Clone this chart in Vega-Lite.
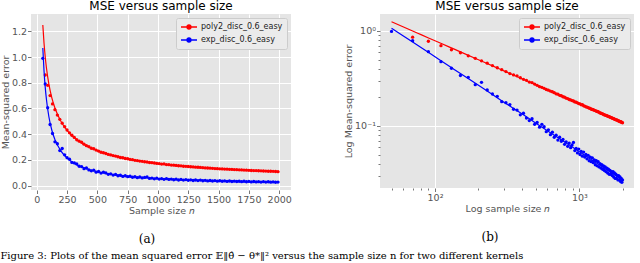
{
  "$schema": "https://vega.github.io/schema/vega-lite/v6.json",
  "background": "white",
  "padding": {"left": 0, "top": 0, "right": 3, "bottom": 0},
  "datasets": {
    "pts": [
      {"n": 50, "exp": 0.99},
      {"n": 70, "poly2": 0.86, "exp": 0.79},
      {"n": 90, "poly2": 0.78, "exp": 0.605},
      {"n": 110, "poly2": 0.70, "exp": 0.475},
      {"n": 130, "poly2": 0.635, "exp": 0.405},
      {"n": 150, "poly2": 0.59, "exp": 0.34},
      {"n": 170, "poly2": 0.548, "exp": 0.325},
      {"n": 190, "poly2": 0.515, "exp": 0.272},
      {"n": 210, "poly2": 0.485, "exp": 0.288},
      {"n": 230, "poly2": 0.458, "exp": 0.239},
      {"n": 250, "poly2": 0.432, "exp": 0.217},
      {"n": 270, "poly2": 0.41, "exp": 0.205},
      {"n": 290, "poly2": 0.391, "exp": 0.18},
      {"n": 310, "poly2": 0.374, "exp": 0.176},
      {"n": 330, "poly2": 0.356, "exp": 0.168},
      {"n": 350, "poly2": 0.345, "exp": 0.15},
      {"n": 370, "poly2": 0.337, "exp": 0.147},
      {"n": 390, "poly2": 0.322, "exp": 0.131},
      {"n": 410, "poly2": 0.31, "exp": 0.136},
      {"n": 430, "poly2": 0.302, "exp": 0.121},
      {"n": 450, "poly2": 0.29, "exp": 0.114},
      {"n": 470, "poly2": 0.286, "exp": 0.119},
      {"n": 490, "poly2": 0.276, "exp": 0.104},
      {"n": 510, "poly2": 0.268, "exp": 0.109},
      {"n": 530, "poly2": 0.259, "exp": 0.097},
      {"n": 550, "poly2": 0.255, "exp": 0.104},
      {"n": 570, "poly2": 0.249, "exp": 0.098},
      {"n": 590, "poly2": 0.242, "exp": 0.087},
      {"n": 610, "poly2": 0.238, "exp": 0.091},
      {"n": 630, "poly2": 0.233, "exp": 0.081},
      {"n": 650, "poly2": 0.229, "exp": 0.086},
      {"n": 670, "poly2": 0.224, "exp": 0.076},
      {"n": 690, "poly2": 0.218, "exp": 0.08},
      {"n": 710, "poly2": 0.216, "exp": 0.071},
      {"n": 730, "poly2": 0.21, "exp": 0.076},
      {"n": 750, "poly2": 0.208, "exp": 0.069},
      {"n": 770, "poly2": 0.203, "exp": 0.072},
      {"n": 790, "poly2": 0.201, "exp": 0.064},
      {"n": 810, "poly2": 0.196, "exp": 0.068},
      {"n": 830, "poly2": 0.194, "exp": 0.061},
      {"n": 850, "poly2": 0.19, "exp": 0.066},
      {"n": 870, "poly2": 0.188, "exp": 0.059},
      {"n": 890, "poly2": 0.185, "exp": 0.063},
      {"n": 910, "poly2": 0.183, "exp": 0.067},
      {"n": 930, "poly2": 0.179, "exp": 0.055},
      {"n": 950, "poly2": 0.178, "exp": 0.058},
      {"n": 970, "poly2": 0.175, "exp": 0.052},
      {"n": 990, "poly2": 0.172, "exp": 0.057},
      {"n": 1010, "poly2": 0.171, "exp": 0.05},
      {"n": 1030, "poly2": 0.167, "exp": 0.054},
      {"n": 1050, "poly2": 0.168, "exp": 0.048},
      {"n": 1070, "poly2": 0.163, "exp": 0.053},
      {"n": 1090, "poly2": 0.162, "exp": 0.047},
      {"n": 1110, "poly2": 0.159, "exp": 0.05},
      {"n": 1130, "poly2": 0.158, "exp": 0.045},
      {"n": 1150, "poly2": 0.156, "exp": 0.049},
      {"n": 1170, "poly2": 0.154, "exp": 0.043},
      {"n": 1190, "poly2": 0.153, "exp": 0.047},
      {"n": 1210, "poly2": 0.15, "exp": 0.042},
      {"n": 1230, "poly2": 0.149, "exp": 0.046},
      {"n": 1250, "poly2": 0.148, "exp": 0.041},
      {"n": 1270, "poly2": 0.146, "exp": 0.044},
      {"n": 1290, "poly2": 0.145, "exp": 0.039},
      {"n": 1310, "poly2": 0.143, "exp": 0.043},
      {"n": 1330, "poly2": 0.142, "exp": 0.038},
      {"n": 1350, "poly2": 0.141, "exp": 0.042},
      {"n": 1370, "poly2": 0.139, "exp": 0.037},
      {"n": 1390, "poly2": 0.137, "exp": 0.04},
      {"n": 1410, "poly2": 0.136, "exp": 0.036},
      {"n": 1430, "poly2": 0.135, "exp": 0.039},
      {"n": 1450, "poly2": 0.134, "exp": 0.035},
      {"n": 1470, "poly2": 0.132, "exp": 0.038},
      {"n": 1490, "poly2": 0.131, "exp": 0.034},
      {"n": 1510, "poly2": 0.13, "exp": 0.037},
      {"n": 1530, "poly2": 0.129, "exp": 0.033},
      {"n": 1550, "poly2": 0.128, "exp": 0.036},
      {"n": 1570, "poly2": 0.127, "exp": 0.032},
      {"n": 1590, "poly2": 0.126, "exp": 0.035},
      {"n": 1610, "poly2": 0.125, "exp": 0.031},
      {"n": 1630, "poly2": 0.124, "exp": 0.034},
      {"n": 1650, "poly2": 0.123, "exp": 0.031},
      {"n": 1670, "poly2": 0.122, "exp": 0.033},
      {"n": 1690, "poly2": 0.121, "exp": 0.03},
      {"n": 1710, "poly2": 0.12, "exp": 0.033},
      {"n": 1730, "poly2": 0.119, "exp": 0.029},
      {"n": 1750, "poly2": 0.118, "exp": 0.032},
      {"n": 1770, "poly2": 0.117, "exp": 0.028},
      {"n": 1790, "poly2": 0.116, "exp": 0.031},
      {"n": 1810, "poly2": 0.116, "exp": 0.028},
      {"n": 1830, "poly2": 0.115, "exp": 0.03},
      {"n": 1850, "poly2": 0.114, "exp": 0.027},
      {"n": 1870, "poly2": 0.113, "exp": 0.03},
      {"n": 1890, "poly2": 0.112, "exp": 0.027},
      {"n": 1910, "poly2": 0.111, "exp": 0.029},
      {"n": 1930, "poly2": 0.111, "exp": 0.026},
      {"n": 1950, "poly2": 0.11, "exp": 0.028},
      {"n": 1970, "poly2": 0.109, "exp": 0.0255},
      {"n": 1990, "poly2": 0.108, "exp": 0.027}
    ],
    "fit": [
      {"n": 50, "poly2": 1.25, "exp": 1.07},
      {"n": 60, "poly2": 1.107, "exp": 0.892},
      {"n": 70, "poly2": 1.0, "exp": 0.764},
      {"n": 80, "poly2": 0.915, "exp": 0.669},
      {"n": 100, "poly2": 0.789, "exp": 0.535},
      {"n": 125, "poly2": 0.68, "exp": 0.428},
      {"n": 150, "poly2": 0.603, "exp": 0.357},
      {"n": 200, "poly2": 0.498, "exp": 0.2675},
      {"n": 250, "poly2": 0.429, "exp": 0.214},
      {"n": 300, "poly2": 0.38, "exp": 0.178},
      {"n": 400, "poly2": 0.314, "exp": 0.134},
      {"n": 500, "poly2": 0.271, "exp": 0.107},
      {"n": 600, "poly2": 0.24, "exp": 0.0892},
      {"n": 800, "poly2": 0.198, "exp": 0.0669},
      {"n": 1000, "poly2": 0.171, "exp": 0.0535},
      {"n": 1250, "poly2": 0.1475, "exp": 0.0428},
      {"n": 1500, "poly2": 0.1307, "exp": 0.0357},
      {"n": 1750, "poly2": 0.1179, "exp": 0.0306},
      {"n": 2000, "poly2": 0.108, "exp": 0.0268}
    ],
    "capA": [{"t": "(a)"}],
    "capB": [{"t": "(b)"}]
  },
  "config": {
    "view": {"stroke": null},
    "font": "DejaVu Sans",
    "axis": {
      "domain": false, "grid": true, "gridColor": "#FFFFFF", "gridWidth": 1,
      "tickColor": "#555555", "tickSize": 3.5, "tickWidth": 0.8,
      "labelColor": "#555555", "labelFontSize": 9.5, "labelFont": "DejaVu Sans", "labelPadding": 1,
      "titleColor": "#555555", "titleFontSize": 9.5, "titleFont": "DejaVu Sans", "titleFontWeight": "normal", "titlePadding": 1
    },
    "title": {"fontSize": 12, "fontWeight": "normal", "font": "DejaVu Sans", "color": "#000000", "offset": 1},
    "legend": {
      "fillColor": "#EBEBEB", "strokeColor": "#CCCCCC", "padding": 4, "cornerRadius": 2,
      "labelFontSize": 8, "labelFont": "DejaVu Sans", "labelColor": "#222222",
      "symbolType": "M-2,0H2M0.5,0A0.5,0.5,0,1,1,-0.5,0A0.5,0.5,0,1,1,0.5,0M0.22,0A0.22,0.22,0,1,1,-0.22,0A0.22,0.22,0,1,1,0.22,0",
      "symbolSize": 64, "symbolStrokeWidth": 1.3, "symbolOffset": 4, "labelOffset": 7, "rowPadding": 3
    }
  },
  "title": {
    "text": "Figure 3: Plots of the mean squared error 𝔼‖θ̂ − θ*‖² versus the sample size n for two different kernels",
    "orient": "bottom", "anchor": "start", "frame": "bounds",
    "font": "DejaVu Serif", "fontSize": 10, "fontWeight": "normal", "color": "#000000", "offset": 2
  },
  "resolve": {"scale": {"color": "independent"}, "legend": {"color": "independent"}},
  "spacing": 51,
  "hconcat": [
    {
      "spacing": 14,
      "resolve": {"scale": {"color": "independent"}, "legend": {"color": "independent"}},
      "vconcat": [
        {
          "width": 260, "height": 176,
          "title": "MSE versus sample size",
          "view": {"fill": "#E5E5E5", "stroke": null},
          "encoding": {
            "x": {"field": "n", "type": "quantitative",
                  "scale": {"domain": [-47.5, 2097.5], "nice": false, "zero": false},
                  "axis": {"values": [0, 250, 500, 750, 1000, 1250, 1500, 1750, 2000], "format": "d", "title": "Sample size 𝑛"}},
            "y": {"field": "mse", "type": "quantitative",
                  "scale": {"domain": [-0.035, 1.335], "nice": false, "zero": false},
                  "axis": {"values": [0, 0.2, 0.4, 0.6, 0.8, 1.0, 1.2], "format": ".1f", "title": "Mean-squared error"}},
            "color": {"field": "series", "type": "nominal",
                      "scale": {"domain": ["poly2", "exp"], "range": ["#FF0000", "#0000FF"]},
                      "legend": {"orient": "top-right", "offset": 4, "title": null,
                                 "labelExpr": "datum.label == 'poly2' ? 'poly2_disc_0.6_easy' : 'exp_disc_0.6_easy'"}}
          },
          "layer": [
            {"data": {"name": "pts"},
             "transform": [{"fold": ["poly2", "exp"], "as": ["series", "mse"]}, {"filter": "isValid(datum.mse)"}],
             "mark": {"type": "circle", "size": 11, "opacity": 1, "clip": true}},
            {"data": {"name": "fit"},
             "transform": [{"fold": ["poly2", "exp"], "as": ["series", "mse"]}],
             "mark": {"type": "line", "strokeWidth": 1.2, "interpolate": "monotone", "clip": true}}
          ]
        },
        {
          "width": 232, "height": 20,
          "data": {"name": "capA"},
          "mark": {"type": "text", "font": "DejaVu Serif", "fontSize": 12, "color": "#000000"},
          "encoding": {"text": {"field": "t", "type": "nominal"}}
        }
      ]
    },
    {
      "spacing": 14,
      "resolve": {"scale": {"color": "independent"}, "legend": {"color": "independent"}},
      "vconcat": [
        {
          "width": 254, "height": 174,
          "title": "MSE versus sample size",
          "view": {"fill": "#E5E5E5", "stroke": null},
          "encoding": {
            "x": {"field": "n", "type": "quantitative",
                  "scale": {"type": "log", "domain": [41.6, 2390], "nice": false},
                  "axis": {"values": [50, 60, 70, 80, 90, 100, 200, 300, 400, 500, 600, 700, 800, 900, 1000, 2000],
                           "labelExpr": "datum.value == 100 ? '10²' : datum.value == 1000 ? '10³' : ''",
                           "gridOpacity": {"condition": {"test": "datum.value == 100 || datum.value == 1000", "value": 1}, "value": 0},
                           "tickSize": {"condition": {"test": "datum.value == 100 || datum.value == 1000", "value": 3.5}, "value": 2},
                           "title": "Log sample size 𝑛"}},
            "y": {"field": "mse", "type": "quantitative",
                  "scale": {"type": "log", "domain": [0.0222, 1.51], "nice": false},
                  "axis": {"values": [0.03, 0.04, 0.05, 0.06, 0.07, 0.08, 0.09, 0.1, 0.2, 0.3, 0.4, 0.5, 0.6, 0.7, 0.8, 0.9, 1],
                           "labelExpr": "datum.value == 1 ? '10⁰' : datum.value == 0.1 ? '10⁻¹' : ''",
                           "gridOpacity": {"condition": {"test": "datum.value == 1 || datum.value == 0.1", "value": 1}, "value": 0},
                           "tickSize": {"condition": {"test": "datum.value == 1 || datum.value == 0.1", "value": 3.5}, "value": 2},
                           "title": "Log Mean-squared error"}},
            "color": {"field": "series", "type": "nominal",
                      "scale": {"domain": ["poly2", "exp"], "range": ["#FF0000", "#0000FF"]},
                      "legend": {"orient": "top-right", "offset": 4, "title": null,
                                 "labelExpr": "datum.label == 'poly2' ? 'poly2_disc_0.6_easy' : 'exp_disc_0.6_easy'"}}
          },
          "layer": [
            {"data": {"name": "pts"},
             "transform": [{"fold": ["poly2", "exp"], "as": ["series", "mse"]}, {"filter": "isValid(datum.mse)"}],
             "mark": {"type": "circle", "size": 11, "opacity": 1, "clip": true}},
            {"data": {"name": "fit"},
             "transform": [{"fold": ["poly2", "exp"], "as": ["series", "mse"]}],
             "mark": {"type": "line", "strokeWidth": 1.2, "interpolate": "monotone", "clip": true}}
          ]
        },
        {
          "width": 220, "height": 20,
          "data": {"name": "capB"},
          "mark": {"type": "text", "font": "DejaVu Serif", "fontSize": 12, "color": "#000000"},
          "encoding": {"text": {"field": "t", "type": "nominal"}}
        }
      ]
    }
  ]
}
